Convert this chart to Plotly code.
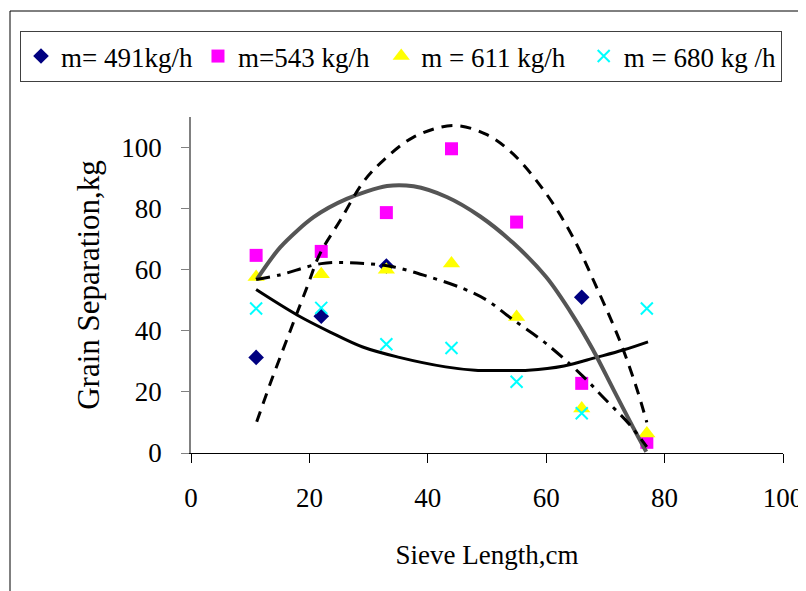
import plotly.graph_objects as go

# ---- data ----
sieve_length = [11, 22, 33, 44, 55, 66, 77]

m491_x = [11, 22, 33, 66]
m491_y = [31.3, 44.8, 61.2, 51.0]
m543_y = [64.7, 66.0, 78.7, 99.6, 75.6, 22.8, 3.5]
m611_y = [57.6, 58.5, 60.0, 62.0, 44.5, 14.6, 6.4]
m680_y = [47.3, 47.5, 35.6, 34.4, 23.3, 13.0, 47.3]

NB = "\u00a0"
series_names = ["m= 491kg/h", "m=543 kg/h" + NB, "m = 611 kg/h" + NB * 2, "m = 680 kg /h"]

# trend lines
trend_gray_x = [11.1, 15.1, 20.7, 26.3, 33.1, 37.6, 43.2, 48.8, 54.4, 60, 64.5, 67.9, 71.3, 74.7, 76.9]
trend_gray_y = [56.8, 67.4, 77.2, 83.2, 87.4, 87.3, 83.8, 77.5, 68.8, 57.6, 45.0, 33.8, 21.0, 8.3, 0.4]

trend_dash_x = [11.1, 13.4, 16.8, 19.6, 21.8, 25.2, 29.1, 32.5, 37.6, 44.3, 50, 54.4, 60, 64.5, 68.5, 72.4, 75.2, 77]
trend_dash_y = [10.2, 22.8, 40.2, 54.3, 65.3, 76.1, 88.7, 95.8, 103.4, 107.2, 104.2, 97.9, 84.9, 70.7, 54.3, 36.9, 21.7, 10]

trend_dashdot_x = [11, 15, 22, 28, 34, 40, 46, 50, 54, 60, 66, 70, 74, 77]
trend_dashdot_y = [56.8, 58.3, 62, 62.2, 61, 57.8, 53.8, 50, 44.2, 35.8, 25.5, 17.5, 9.5, 2]

trend_black_x = [11, 18, 23.5, 29, 35, 43, 48, 52, 57, 63, 68.5, 73, 77.2]
trend_black_y = [53.5, 45.1, 39.6, 34.7, 31.4, 28.2, 27.1, 27, 27.1, 28.5, 31.3, 33.7, 36.4]

FONT = "Liberation Serif, Times New Roman, serif"

fig = go.Figure()

fig.add_trace(go.Scatter(x=m491_x, y=m491_y, mode="markers", name=series_names[0],
                         marker=dict(symbol="diamond", size=12, color="#000080")))
fig.add_trace(go.Scatter(x=sieve_length, y=m543_y, mode="markers", name=series_names[1],
                         marker=dict(symbol="square", size=13, color="#FF00FF")))
fig.add_trace(go.Scatter(x=sieve_length, y=m611_y, mode="markers", name=series_names[2],
                         marker=dict(symbol="triangle-up", size=15, color="#FFFF00")))
fig.add_trace(go.Scatter(x=sieve_length, y=m680_y, mode="markers", name=series_names[3],
                         marker=dict(symbol="x-thin", size=12, color="#00FFFF",
                                     line=dict(color="#00FFFF", width=2))))

line_spec = dict(mode="lines", showlegend=False, hoverinfo="skip")
fig.add_trace(go.Scatter(x=trend_black_x, y=trend_black_y,
                         line=dict(color="black", width=3, shape="spline"), **line_spec))
fig.add_trace(go.Scatter(x=trend_gray_x, y=trend_gray_y,
                         line=dict(color="#555555", width=4, shape="spline", smoothing=0.8), **line_spec))
fig.add_trace(go.Scatter(x=trend_dashdot_x, y=trend_dashdot_y,
                         line=dict(color="black", width=3, shape="spline", dash="14px,7px,4px,7px"), **line_spec))
fig.add_trace(go.Scatter(x=trend_dash_x, y=trend_dash_y,
                         line=dict(color="black", width=3, shape="spline", dash="11px,8px"), **line_spec))

# the page adds an 8px body margin; the figure is sized to fill the rest of the window
OFF = 8
W, H = 806 - OFF, 591 - OFF
L, T = 191 - OFF, 117 - OFF
R = W - (783 - OFF)
B = H - (453 - OFF)
pw, ph = W - L - R, H - T - B

def px(x):
    return (x - OFF - L) / pw

def py(y):
    return (H - B - (y - OFF)) / ph

fig.add_shape(type="rect", xref="paper", yref="paper",
              x0=px(10), x1=px(830), y0=py(11), y1=py(620),
              line=dict(color="black", width=1), fillcolor="rgba(0,0,0,0)", layer="below")

fig.update_layout(
    width=W, height=H,
    margin=dict(l=L, r=R, t=T, b=B, autoexpand=False),
    paper_bgcolor="white", plot_bgcolor="white",
    font=dict(family=FONT, size=27, color="black"),
    showlegend=True,
    legend=dict(orientation="h", x=px(20), y=py(31), xanchor="left", yanchor="top",
                bordercolor="#404040", borderwidth=1, bgcolor="white",
                font=dict(family=FONT, size=27), itemsizing="trace",
                tracegroupgap=0, itemwidth=30),
    xaxis=dict(range=[0, 100], dtick=20, tick0=0, showgrid=False, zeroline=False,
               showline=True, linecolor="black", linewidth=1,
               ticks="outside", ticklen=9, tickcolor="black",
               ticklabelstandoff=12,
               title=dict(text="Sieve Length,cm", font=dict(family=FONT, size=27), standoff=32)),
    yaxis=dict(range=[0, 110], tickvals=[0, 20, 40, 60, 80, 100], showgrid=False, zeroline=False,
               showline=True, linecolor="#808080", linewidth=1.5,
               ticks="outside", ticklen=8, tickcolor="#808080",
               ticklabelstandoff=14,
               title=dict(text="Grain Separation,kg", font=dict(family=FONT, size=31), standoff=12)),
)

fig.write_html("out.html")
